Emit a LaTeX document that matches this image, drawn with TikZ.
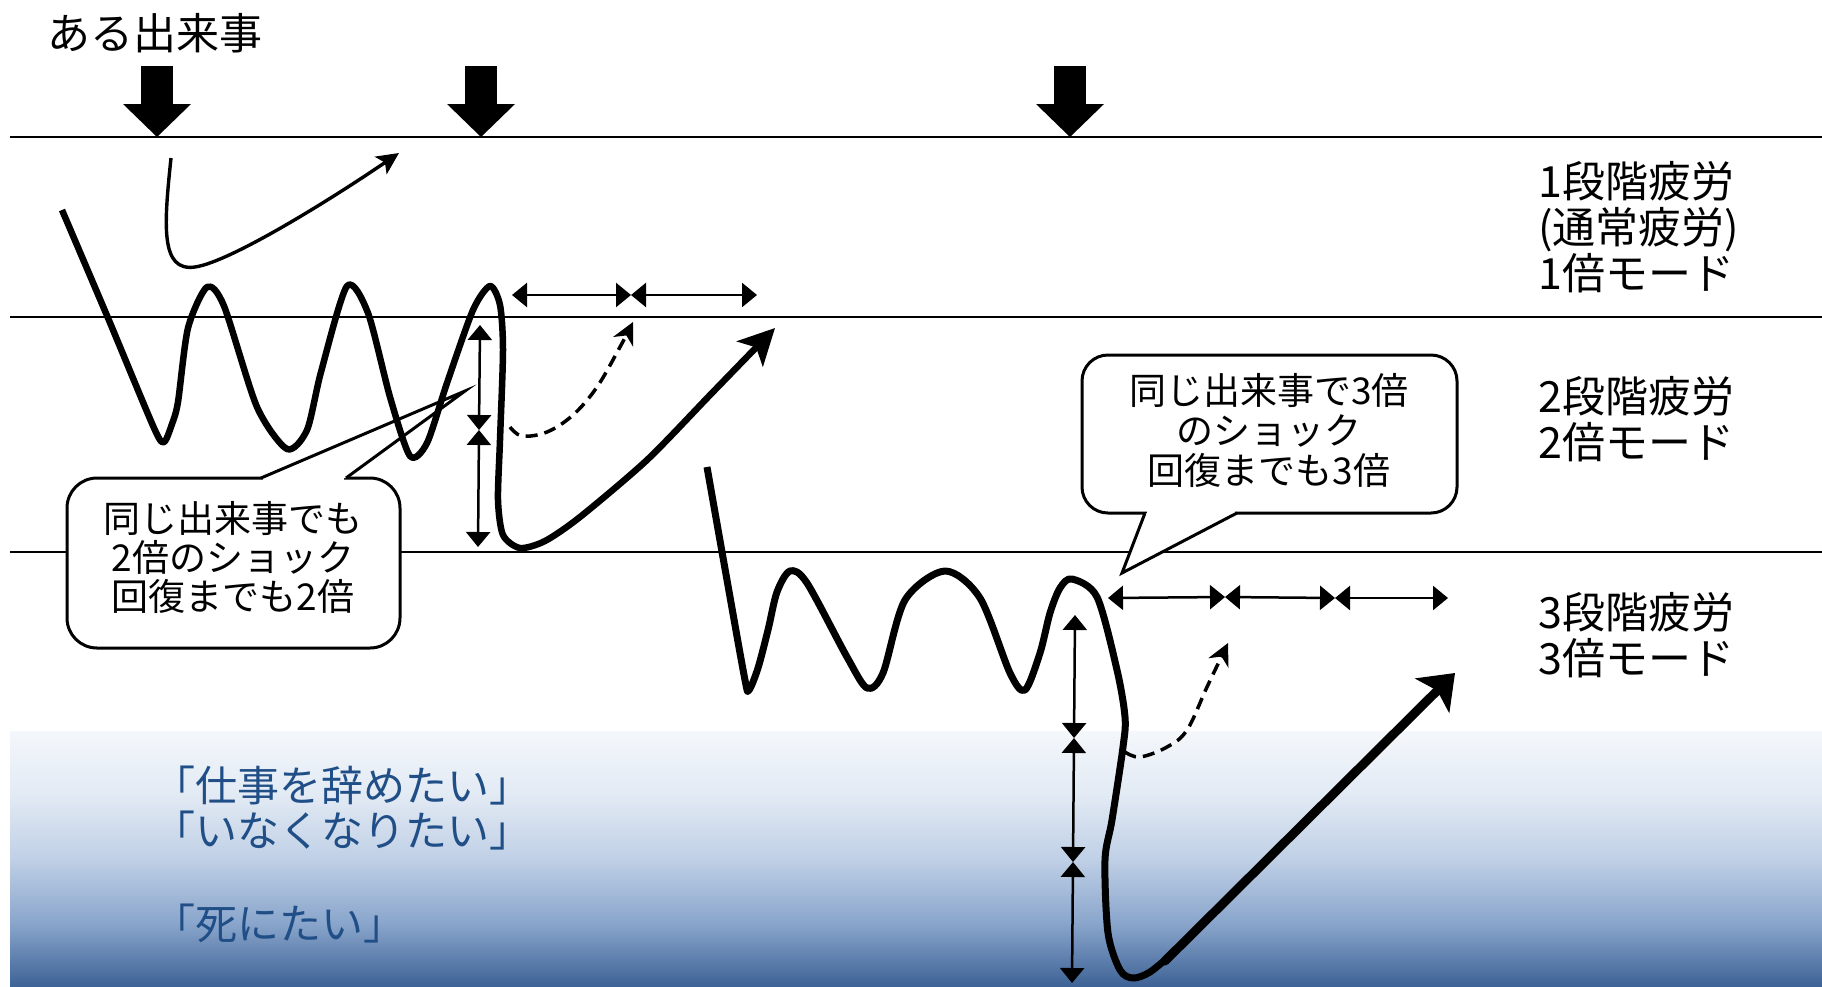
\documentclass[tikz,border=0pt]{standalone}
\usepackage{fontspec}
\setmainfont{Noto Sans CJK JP}
\usetikzlibrary{arrows.meta}
\definecolor{txtblue}{RGB}{32,78,134}
\definecolor{g0}{RGB}{62,99,150}
\definecolor{g1}{RGB}{138,166,204}
\definecolor{g2}{RGB}{192,208,230}
\definecolor{g3}{RGB}{226,234,244}
\definecolor{g4}{RGB}{244,247,251}
\pgfdeclareverticalshading{deepzone}{100bp}{color(0bp)=(g0); color(25bp)=(g0); color(37.5bp)=(g1); color(50bp)=(g2); color(62.5bp)=(g3); color(75bp)=(g4); color(100bp)=(g4)}
\tikzset{
  hline/.style={line width=2.2pt, black},
  wave/.style={line width=6.5pt, line join=round},
  dimarr/.style={line width=2.5pt, {Triangle[length=15pt,width=24pt]}-{Triangle[length=15pt,width=24pt]}},
  dasharr/.style={line width=3.5pt, dash pattern=on 12pt off 7pt, -{Stealth[length=22pt,width=22pt,inset=7pt]}},
  calloutbox/.style={line width=3pt, fill=white},
  lbl/.style={inner sep=0pt, font=\fontsize{43}{46}\selectfont, align=left, anchor=west},
  cotext/.style={inner sep=0pt, align=center},
  bigdown/.style={fill=black}
}
\begin{document}
\begin{tikzpicture}[x=1pt,y=-1pt]
\useasboundingbox (0,0) rectangle (1822,986);
\fill[white] (0,0) rectangle (1822,986);
% deep zone gradient
\shade[shading=deepzone] (10,731) rectangle (1822,986);
% level lines
\draw[hline] (10,137) -- (1822,137);
\draw[hline] (10,317) -- (1822,317);
\draw[hline] (10,552) -- (1822,552);
% event arrows
\foreach \cx in {157,481,1070}{
  \fill[bigdown] (\cx-16,66) rectangle (\cx+16,105);
  \fill[bigdown] (\cx-34,104) -- (\cx+34,104) -- (\cx,137) -- cycle;
}
% left callout
\draw[calloutbox] [rounded corners=30pt] (67,478) rectangle (400,648);
\fill[white] (261,478) -- (465,391) -- (346,478) -- cycle;
\fill[white] (263,476) rectangle (344,480.5);
\draw[line width=3pt, line join=miter] (261,478) -- (465,391) -- (346,478);
\node[cotext, font=\fontsize{37}{39}\selectfont] (c1) at (233,557) {同じ出来事でも\\2倍のショック\\回復までも2倍};
% right callout
\draw[calloutbox] [rounded corners=26pt] (1082,355) rectangle (1457,513);
\fill[white] (1145,513) -- (1122,573) -- (1237,513) -- cycle;
\fill[white] (1147,511) rectangle (1235,515.5);
\draw[line width=3pt, line join=miter] (1145,513) -- (1122,573) -- (1237,513);
\node[cotext, font=\fontsize{37}{40}\selectfont] (c2) at (1269,430) {同じ出来事で3倍\\のショック\\回復までも3倍};
% normal recovery (thin)
\draw[line width=3.4pt, -{Stealth[length=22pt,width=21pt,inset=5pt]}] (171,158) .. controls (164,225) and (160,272) .. (195,267) .. controls (230,262) and (330,200) .. (399,153);
% wave 1
\draw[wave, -{Stealth[length=36pt,width=36pt,inset=9pt]}] plot[smooth, tension=0.45] coordinates {(62,210) (108,318) (154,428) (164,442) (172,424) (178,402) (188,328) (207,287) (224,306) (257,407) (287,449) (307,430) (321,372) (347,286) (368,313) (390,397) (410,456) (427,443) (447,383) (473,310) (490,286) (500,305) (503,350) (500,440) (498,500) (503,535) (520,548) (545,541) (580,517) (647,460) (711,394) (775,328)};
% wave 2
\draw[wave, line width=7pt] plot[smooth, tension=0.5] coordinates {(707,467) (727,580) (745,680) (749,690) (758,668) (768,630) (777,592) (790,571) (807,583) (847,657) (867,688) (883,673) (905,600) (945,571) (980,598) (1010,673) (1025,690) (1040,653) (1050,613) (1060,588) (1072,579) (1097,597) (1117,670) (1125,717) (1123,747) (1112,820) (1105,860) (1108,933) (1120,970) (1133,978) (1150,972) (1173,953)};
\draw[line width=9pt, line cap=round, -{Stealth[length=32pt,width=48pt,inset=7pt]}] (1165,961) -- (1455,673);
% dashed partial recoveries
\draw[dasharr] plot[smooth, tension=0.6] coordinates {(510,427) (522,436) (547,432) (573,415) (597,387) (620,347) (633,322)};
\draw[dasharr] plot[smooth, tension=0.6] coordinates {(1125,752) (1140,757) (1167,747) (1187,730) (1207,687) (1228,643)};
% dimension arrows set 1
\coordinate (h1a) at (512,295); \coordinate (h1b) at (631,295); \coordinate (h1c) at (757,295);
\draw[dimarr] (h1a) -- (h1b);
\draw[dimarr] (h1b) -- (h1c);
\coordinate (v1a) at (480,325); \coordinate (v1b) at (479,430); \coordinate (v1c) at (478,547);
\draw[dimarr] (v1a) -- (v1b);
\draw[dimarr] (v1b) -- (v1c);
% dimension arrows set 2
\coordinate (h2a) at (1108,598); \coordinate (h2b) at (1225,597); \coordinate (h2c) at (1335,598); \coordinate (h2d) at (1448,598);
\draw[dimarr] (h2a) -- (h2b);
\draw[dimarr] (h2b) -- (h2c);
\draw[dimarr] (h2c) -- (h2d);
\coordinate (v2a) at (1075,615); \coordinate (v2b) at (1074,738); \coordinate (v2c) at (1073,862); \coordinate (v2d) at (1072,983);
\draw[dimarr] (v2a) -- (v2b);
\draw[dimarr] (v2b) -- (v2c);
\draw[dimarr] (v2c) -- (v2d);
% texts
\node[inner sep=0pt, anchor=west, font=\fontsize{43}{46}\selectfont] (title) at (47,33) {ある出来事};
\node[lbl] (l1) at (1538,227) {1段階疲労\\(通常疲労)\\1倍モード};
\node[lbl] (l2) at (1538,419) {2段階疲労\\2倍モード};
\node[lbl] (l3) at (1538,635) {3段階疲労\\3倍モード};
\node[inner sep=0pt, anchor=west, align=left, text=txtblue, font=\fontsize{42}{45}\selectfont] (d1) at (153,808) {「仕事を辞めたい」\\「いなくなりたい」};
\node[inner sep=0pt, anchor=west, text=txtblue, font=\fontsize{42}{45}\selectfont] (d2) at (153,924) {「死にたい」};
\end{tikzpicture}
\end{document}
